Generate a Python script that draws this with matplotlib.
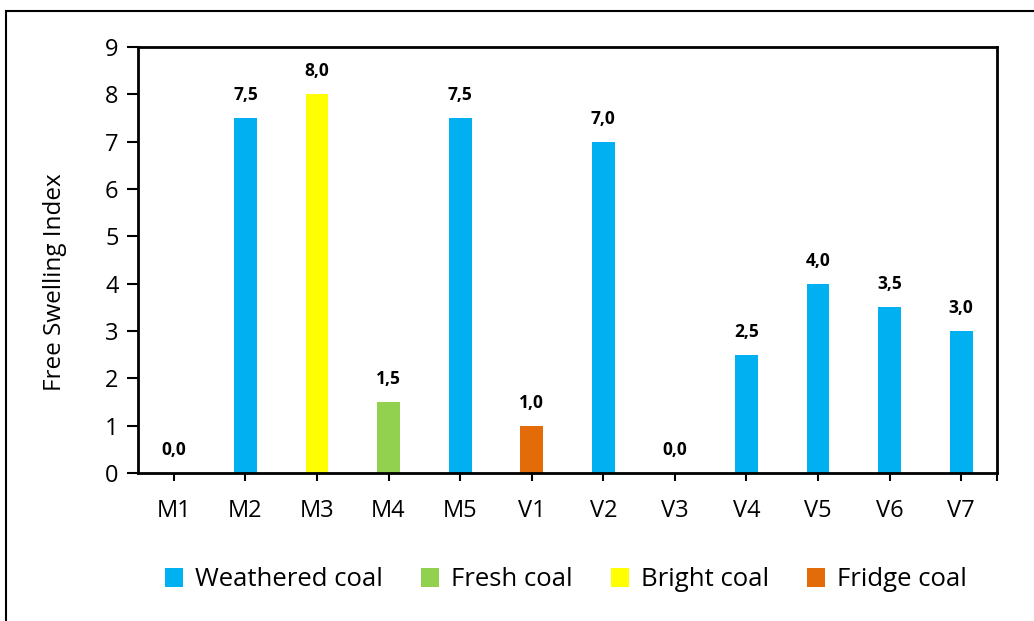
import matplotlib
matplotlib.use("Agg")
import numpy as np
from matplotlib import pyplot as plt
from matplotlib.patches import Patch, Rectangle

samples = ["M1", "M2", "M3", "M4", "M5", "V1", "V2", "V3", "V4", "V5", "V6", "V7"]
fsi = [0.0, 7.5, 8.0, 1.5, 7.5, 1.0, 7.0, 0.0, 2.5, 4.0, 3.5, 3.0]
coal_type = ["Weathered coal", "Weathered coal", "Bright coal", "Fresh coal", "Weathered coal",
             "Fridge coal", "Weathered coal", "Weathered coal", "Weathered coal", "Weathered coal",
             "Weathered coal", "Weathered coal"]
type_names = ["Weathered coal", "Fresh coal", "Bright coal", "Fridge coal"]
type_colors = {"Weathered coal": "#00B0F0", "Fresh coal": "#92D050",
               "Bright coal": "#FFFF00", "Fridge coal": "#E36C09"}

plt.rcParams['font.family'] = ['Open Sans', 'DejaVu Sans']

fig = plt.figure(figsize=(10.34, 6.21), dpi=100)
ax = fig.add_axes([138 / 1034, 1 - 473 / 621, (997 - 138) / 1034, (473 - 47) / 621])

x = np.arange(len(samples))
colors = [type_colors[t] for t in coal_type]
bars = ax.bar(x, fsi, width=0.32, color=colors, zorder=2)

# value labels above bars, comma as decimal mark
for xi, v in zip(x, fsi):
    ax.annotate(f"{v:.1f}".replace(".", ","), (xi, v), xytext=(0, 10), textcoords="offset points",
                ha="center", va="bottom", fontsize=12.5, fontweight="bold")

ax.set_xlim(-0.5, len(samples) - 0.5)
ax.set_ylim(0, 9)
ax.set_yticks(range(0, 10))
ax.set_xticks(x)
ax.set_xticklabels(samples)
ax.set_xticks([len(samples) - 0.5], minor=True)
ax.tick_params(axis="x", which="both", direction="out", length=6, width=1.5, labelsize=17, pad=13)
ax.tick_params(axis="y", direction="out", length=8, width=1.5, labelsize=17, pad=6)
for s in ax.spines.values():
    s.set_linewidth(2)
ax.set_ylabel("Free Swelling Index", fontsize=17.5)
ax.yaxis.set_label_coords(-0.083, 0.448)

handles = [Patch(facecolor=type_colors[t], edgecolor="none") for t in type_names]
fig.legend(handles, type_names, loc="center", bbox_to_anchor=(566 / 1034, 1 - 580 / 621), ncol=4,
           frameon=False, fontsize=18.5, handlelength=0.7, handleheight=0.8, handletextpad=0.45,
           columnspacing=1.5)

# outer chart frame (cut off at right and bottom like the source)
fig.add_artist(Rectangle((6 / 1034, -0.1), 1.2, 1 - 11 / 621 + 0.1, transform=fig.transFigure,
                         fill=False, lw=1.5, edgecolor="black"))

fig.savefig("out.png", dpi=100)
